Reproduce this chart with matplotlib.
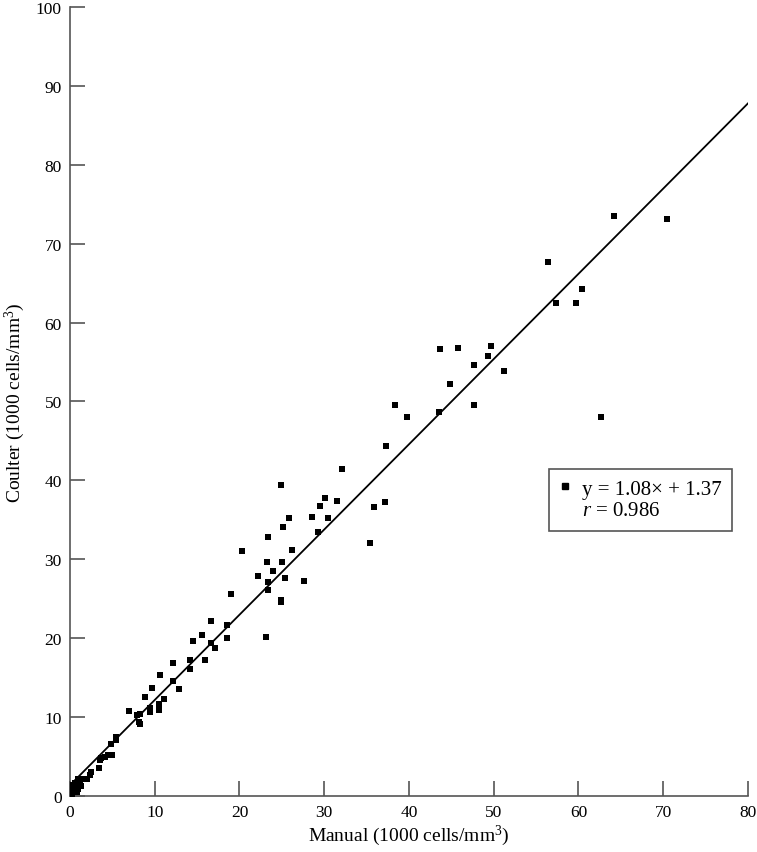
import matplotlib
matplotlib.use("Agg")
import numpy as np
import matplotlib.pyplot as plt
from matplotlib.lines import Line2D

plt.rcParams["font.family"] = ["Liberation Serif", "DejaVu Serif"]
plt.rcParams["mathtext.fontset"] = "custom"
plt.rcParams["mathtext.rm"] = "Liberation Serif"
plt.rcParams["mathtext.it"] = "Liberation Serif:italic"

# manual vs coulter counts (1000 cells/mm3)
manual = [
    70.4, 64.2, 56.4, 60.4, 57.4, 59.7, 62.7,
    43.7, 45.8, 49.7, 49.3, 47.7, 51.2, 44.8, 38.3, 39.8, 43.5, 47.7,
    37.3, 32.1, 31.5, 35.9, 37.2, 35.4, 30.4,
    24.9, 30.1, 29.5, 28.5, 30.5, 25.9, 25.1, 29.3, 23.4, 20.3, 26.2,
    23.2, 25.0, 24.0, 22.2, 25.4, 27.6, 23.4, 23.4, 24.9, 24.9,
    19.0, 16.6, 18.5, 15.6, 14.5, 16.6, 18.5, 17.1, 23.1,
    12.2, 14.2, 15.9, 14.2,
    10.6, 12.1, 12.9, 9.7, 8.9, 11.1, 9.4, 10.5, 10.5, 9.4, 7.0, 7.9, 8.3, 8.1, 8.3,
    5.4, 5.4, 4.8, 4.9, 4.5, 4.1, 3.6, 3.5, 3.4, 2.5, 2.3, 2.0, 1.5, 1.2, 0.9,
    0.6, 0.4, 0.8, 0.2, 0.6, 0.4, 0.2, 0.8, 1.0, 1.3,
]
coulter = [
    73.1, 73.5, 67.7, 64.3, 62.5, 62.5, 48.0,
    56.7, 56.8, 57.0, 55.7, 54.6, 53.8, 52.2, 49.6, 48.0, 48.6, 49.6,
    44.3, 41.4, 37.4, 36.6, 37.3, 32.1, 35.2,
    39.4, 37.7, 36.7, 35.3, 35.2, 35.2, 34.1, 33.5, 32.8, 31.1, 31.2,
    29.7, 29.7, 28.5, 27.9, 27.6, 27.3, 27.1, 26.1, 24.8, 24.6,
    25.6, 22.2, 21.7, 20.4, 19.6, 19.4, 20.0, 18.8, 20.1,
    16.9, 17.2, 17.2, 16.1,
    15.3, 14.6, 13.5, 13.7, 12.5, 12.3, 11.2, 11.7, 10.9, 10.7, 10.8, 10.2, 10.4, 9.4, 9.1,
    7.5, 7.1, 6.6, 5.2, 5.2, 5.0, 4.8, 4.5, 3.5, 3.0, 2.7, 2.2, 2.1, 1.8, 2.2,
    1.7, 1.4, 1.3, 1.0, 0.8, 0.5, 0.3, 0.5, 0.9, 1.3,
]

slope = 1.08
intercept = 1.37
r_value = 0.986

fig = plt.figure(figsize=(7.57, 8.53), dpi=100)
ax = fig.add_axes([0.0925, 0.0657, 0.8955, 0.925])

ax.scatter(manual, coulter, marker="s", s=20, color="black", linewidths=0, zorder=3)
fit_x = np.array([0, 80])
ax.plot(fit_x, slope * fit_x + intercept, color="black", linewidth=1.3, zorder=2)

ax.set_xlim(0, 80)
ax.set_ylim(0, 100)
ax.set_xticks(range(0, 81, 10))
ax.set_yticks(range(0, 101, 10))

for side in ["top", "right"]:
    ax.spines[side].set_visible(False)
for side in ["left", "bottom"]:
    ax.spines[side].set_color("#555555")
    ax.spines[side].set_linewidth(1.2)
ax.tick_params(direction="in", length=11, width=1.2, color="#555555",
               labelsize=12.5, pad=6)

ax.set_xlabel(r"Manual (1000 cells/mm$^3$)", fontsize=14, labelpad=2)
ax.set_ylabel(r"Coulter (1000 cells/mm$^3$)", fontsize=14, labelpad=6)

handles = [
    Line2D([], [], marker="s", color="black", linestyle="none", markersize=4.5),
    Line2D([], [], linestyle="none"),
]
labels = [f"y = {slope:.2f}\u00d7 + {intercept:.2f}", f"$r$ = {r_value:.3f}"]
leg = ax.legend(handles, labels, loc="lower left", bbox_to_anchor=(0.706, 0.336),
                borderaxespad=0, fontsize=15, handlelength=0.6, handletextpad=0.5,
                labelspacing=0.1, borderpad=0.5, fancybox=False, framealpha=1)
leg.get_frame().set_edgecolor("#555555")
leg.get_frame().set_linewidth(1.2)

fig.savefig("out.png", dpi=100)
